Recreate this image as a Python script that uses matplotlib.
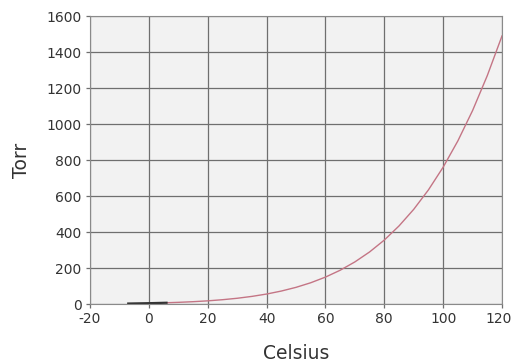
import matplotlib
matplotlib.use("Agg")
import matplotlib.pyplot as plt
import matplotlib.transforms as mtransforms

# water vapour pressure, Torr
celsius = [-7, 0, 6, 10, 15, 20, 25, 30, 35, 40, 45, 50, 55, 60, 65, 70, 75,
           80, 85, 90, 95, 100, 105, 110, 115, 120]
torr = [2.6, 4.6, 7.0, 9.2, 12.8, 17.5, 23.8, 31.8, 42.2, 55.3, 71.9, 92.5,
        118.0, 149.4, 187.5, 233.7, 289.1, 355.1, 433.6, 525.8, 633.9, 760.0,
        906.1, 1074.6, 1268.8, 1489.1]
n_dark = 3  # first few points drawn darker

x_ticks = [-20, 0, 20, 40, 60, 80, 100, 120]
y_ticks = [0, 200, 400, 600, 800, 1000, 1200, 1400, 1600]

plt.rcParams["font.family"] = ["DejaVu Sans"]
plt.rcParams["axes.unicode_minus"] = False

fig = plt.figure(figsize=(5.14, 3.64), dpi=100)
ax = fig.add_axes([90 / 514, 60 / 364, 412 / 514, 288 / 364])
ax.set_facecolor("#f2f2f2")

ax.plot(celsius[n_dark - 1:], torr[n_dark - 1:], color="#c47585", lw=1.0)
ax.plot(celsius[:n_dark], torr[:n_dark], color="#333333", lw=1.6)

ax.set_xlim(-20, 120)
ax.set_ylim(0, 1600)
ax.set_xticks(x_ticks)
ax.set_yticks(y_ticks)
ax.grid(True, color="#6f6f6f", lw=0.9)
ax.set_axisbelow(True)
for s in ax.spines.values():
    s.set_color("#8a8a8a")
    s.set_linewidth(0.8)
ax.tick_params(length=3, width=0.9, color="#6f6f6f", labelsize=10,
               labelcolor="#333333", pad=3)

# last x label sits a little to the left so it fits
last = ax.get_xticklabels()[-1]
last.set_transform(last.get_transform() +
                   mtransforms.ScaledTranslation(-3 / 100, 0, fig.dpi_scale_trans))

ax.set_xlabel("Celsius", fontsize=13.5, color="#333333", labelpad=13)
ax.set_ylabel("Torr", fontsize=13.5, color="#333333", labelpad=11)

fig.savefig("out.png", dpi=100)
